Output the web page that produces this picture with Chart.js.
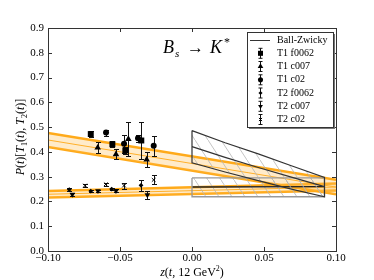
<!DOCTYPE html>
<html>
<head>
<meta charset="utf-8">
<script src="https://cdn.jsdelivr.net/npm/chart.js@4.4.1/dist/chart.umd.min.js"></script>
<style>
    html, body { margin: 0; padding: 0; background: #fff; }
    canvas { display: block; }
</style>
</head>
<body>
<canvas id="grafico" width="374" height="280"></canvas>
<script>
// datos
const t1f0062X = [-0.0703, -0.0553, -0.0463, -0.0352];
const t1f0062Y = [0.472, 0.431, 0.406, 0.446];
const t1f0062Err = [0.012, 0.012, 0.015, 0.073];

const t1c007X = [-0.0655, -0.0528, -0.0442, -0.0315];
const t1c007Y = [0.417, 0.390, 0.452, 0.369];
const t1c007Err = [0.022, 0.020, 0.068, 0.030];

const t1c02X = [-0.0597, -0.0472, -0.0375, -0.0266];
const t1c02Y = [0.478, 0.433, 0.455, 0.425];
const t1c02Err = [0.012, 0.037, 0.015, 0.040];

const t2f0062X = [-0.0852, -0.0703, -0.0558, -0.0354];
const t2f0062Y = [0.248, 0.242, 0.250, 0.265];
const t2f0062Err = [0.005, 0.004, 0.005, 0.022];

const t2c007X = [-0.0831, -0.0653, -0.0528, -0.0310];
const t2c007Y = [0.228, 0.243, 0.243, 0.226];
const t2c007Err = [0.006, 0.004, 0.006, 0.018];

const t2c02X = [-0.0743, -0.0599, -0.0472, -0.0266];
const t2c02Y = [0.264, 0.269, 0.264, 0.287];
const t2c02Err = [0.005, 0.005, 0.012, 0.018];

// bandas del ajuste
const bandaX = [-0.10, 0.10];
const t1BandaAlta = [0.476, 0.287];
const t1BandaMedia = [0.448, 0.258];
const t1BandaBaja = [0.420, 0.229];
const t2BandaAlta = [0.242, 0.272];
const t2BandaMedia = [0.229, 0.258];
const t2BandaBaja = [0.216, 0.244];

// Ball-Zwicky
const bzX = [0, 0.023, 0.046, 0.069, 0.092];
const t1BzAlta = [0.486, 0.437, 0.392, 0.344, 0.297];
const t1BzMedia = [0.421, 0.378, 0.337, 0.298, 0.260];
const t1BzBaja = [0.356, 0.319, 0.284, 0.250, 0.219];
const t2BzX = [0, 0.092];
const t2BzAlta = [0.295, 0.295];
const t2BzMedia = [0.258, 0.260];
const t2BzBaja = [0.219, 0.219];

const ticksX = [-0.10, -0.05, 0.00, 0.05, 0.10];
const ticksY = [0.0, 0.1, 0.2, 0.3, 0.4, 0.5, 0.6, 0.7, 0.8, 0.9];

const serif = '"Liberation Serif", "DejaVu Serif", serif';

function puntos(xs, ys) {
    return xs.map((x, i) => ({ x: x, y: ys[i] }));
}

function contorno(xs, alta, baja) {
    let p = [];
    for (let i = 0; i < xs.length; i++) p.push({ x: xs[i], y: alta[i] });
    for (let i = xs.length - 1; i >= 0; i--) p.push({ x: xs[i], y: baja[i] });
    p.push({ x: xs[0], y: alta[0] });
    return p;
}

function crearRayado() {
    const c = document.createElement('canvas');
    c.width = 13;
    c.height = 20;
    const g = c.getContext('2d');
    g.strokeStyle = '#b5b5b5';
    g.lineWidth = 0.8;
    g.beginPath();
    g.moveTo(0, 0);
    g.lineTo(13, 20);
    g.stroke();
    return g.createPattern(c, 'repeat');
}
const rayado = crearRayado();

function serieDatos(nombre, xs, ys, errs, estilo, radio, rot) {
    return {
        label: nombre,
        data: puntos(xs, ys),
        errores: errs,
        showLine: false,
        pointStyle: estilo,
        pointRadius: radio,
        pointRotation: rot || 0,
        pointBackgroundColor: '#000',
        pointBorderColor: '#000',
        pointBorderWidth: estilo === 'crossRot' ? 1 : 0,
        enLeyenda: true
    };
}

function linea(xs, ys, color, ancho, extra) {
    return Object.assign({
        data: puntos(xs, ys),
        borderColor: color,
        borderWidth: ancho,
        pointRadius: 0,
        fill: false,
        tension: 0
    }, extra || {});
}

const datasets = [
    serieDatos('T1 f0062', t1f0062X, t1f0062Y, t1f0062Err, 'rect', 4.2),
    serieDatos('T1 c007', t1c007X, t1c007Y, t1c007Err, 'triangle', 3.8),
    serieDatos('T1 c02', t1c02X, t1c02Y, t1c02Err, 'circle', 3),
    serieDatos('T2 f0062', t2f0062X, t2f0062Y, t2f0062Err, 'rectRot', 2.4),
    serieDatos('T2 c007', t2c007X, t2c007Y, t2c007Err, 'triangle', 3.3, 180),
    serieDatos('T2 c02', t2c02X, t2c02Y, t2c02Err, 'crossRot', 2.6),
    // Ball-Zwicky T1
    { data: contorno(bzX, t1BzAlta, t1BzBaja), borderColor: '#333', borderWidth: 1.2, pointRadius: 0, fill: false, tension: 0 },
    linea(bzX, t1BzMedia, '#333', 1.2),
    linea(bzX, t1BzAlta, 'rgba(0,0,0,0)', 0, { fill: '+1', backgroundColor: rayado }),
    linea(bzX, t1BzBaja, 'rgba(0,0,0,0)', 0),
    // Ball-Zwicky T2
    { data: contorno(t2BzX, t2BzAlta, t2BzBaja), borderColor: '#999', borderWidth: 1.3, pointRadius: 0, fill: false, tension: 0 },
    linea(t2BzX, t2BzMedia, '#222', 1.4),
    linea(t2BzX, t2BzAlta, 'rgba(0,0,0,0)', 0, { fill: '+1', backgroundColor: rayado }),
    linea(t2BzX, t2BzBaja, 'rgba(0,0,0,0)', 0),
    // bandas
    linea(bandaX, t1BandaAlta, '#ffaa1a', 2.5, { fill: '+2', backgroundColor: 'rgba(255,190,80,0.3)' }),
    linea(bandaX, t1BandaMedia, '#ffaa1a', 1),
    linea(bandaX, t1BandaBaja, '#ffaa1a', 2.5),
    linea(bandaX, t2BandaAlta, '#ffaa1a', 2.5, { fill: '+2', backgroundColor: 'rgba(255,190,80,0.3)' }),
    linea(bandaX, t2BandaMedia, '#ffaa1a', 1),
    linea(bandaX, t2BandaBaja, '#ffaa1a', 2.5)
];

function textoRuns(ctx, runs, x, y, centrado) {
    let ancho = 0;
    runs.forEach(r => { ctx.font = r[1]; ancho += ctx.measureText(r[0]).width; });
    let cx = centrado ? x - ancho / 2 : x;
    runs.forEach(r => {
        ctx.font = r[1];
        ctx.fillText(r[0], cx, y + (r[2] || 0));
        cx += ctx.measureText(r[0]).width;
    });
}

// barras de error bajo cada marcador
const pluginErrores = {
    id: 'errores',
    beforeDatasetDraw(chart, args) {
        const ds = chart.data.datasets[args.index];
        if (!ds.errores) return;
        const ctx = chart.ctx, sx = chart.scales.x, sy = chart.scales.y;
        ctx.save();
        ctx.strokeStyle = '#111';
        ctx.lineWidth = 1;
        ds.data.forEach((p, i) => {
            const px = Math.round(sx.getPixelForValue(p.x)) + 0.5;
            const y1 = Math.round(sy.getPixelForValue(p.y + ds.errores[i])) + 0.5;
            const y2 = Math.round(sy.getPixelForValue(p.y - ds.errores[i])) + 0.5;
            ctx.beginPath();
            ctx.moveTo(px, y1); ctx.lineTo(px, y2);
            ctx.moveTo(px - 2.5, y1); ctx.lineTo(px + 2.5, y1);
            ctx.moveTo(px - 2.5, y2); ctx.lineTo(px + 2.5, y2);
            ctx.stroke();
        });
        ctx.restore();
    }
};

// marco, ticks interiores, titulos y leyenda
const pluginExtras = {
    id: 'extras',
    afterDraw(chart) {
        const ctx = chart.ctx, a = chart.chartArea;
        const sx = chart.scales.x, sy = chart.scales.y;
        ctx.save();
        ctx.strokeStyle = '#333';
        ctx.lineWidth = 1;
        ctx.beginPath();
        ticksX.forEach(v => {
            const px = Math.round(sx.getPixelForValue(v)) + 0.5;
            ctx.moveTo(px, a.bottom); ctx.lineTo(px, a.bottom - 4);
            ctx.moveTo(px, a.top); ctx.lineTo(px, a.top + 4);
        });
        ticksY.forEach(v => {
            const py = Math.round(sy.getPixelForValue(v)) + 0.5;
            ctx.moveTo(a.left, py); ctx.lineTo(a.left + 4, py);
            ctx.moveTo(a.right, py); ctx.lineTo(a.right - 4, py);
        });
        ctx.stroke();
        ctx.strokeRect(Math.round(a.left) + 0.5, Math.round(a.top) + 0.5,
            Math.round(a.right - a.left), Math.round(a.bottom - a.top));

        ctx.fillStyle = '#000';
        ctx.textBaseline = 'alphabetic';
        const it = 'italic 12px ' + serif, rm = '12px ' + serif, pe = '8px ' + serif;

        // eje x
        textoRuns(ctx, [['z', it], ['(', rm], ['t', it], [', 12 GeV', rm], ['2', pe, -5], [')', rm]], 192, 276, true);

        // eje y
        ctx.save();
        ctx.translate(24, 137);
        ctx.rotate(-Math.PI / 2);
        textoRuns(ctx, [['P', it], ['(', rm], ['t', it], [')[', rm], ['T', it], ['1', pe, 3], ['(', rm], ['t', it], ['), ', rm],
            ['T', it], ['2', pe, 3], ['(', rm], ['t', it], [')]', rm]], 0, 0, true);
        ctx.restore();

        // titulo dentro del grafico
        ctx.font = 'italic 18px ' + serif;
        ctx.fillText('B', 163, 53);
        ctx.font = 'italic 11px ' + serif;
        ctx.fillText('s', 175, 57);
        ctx.font = '17px ' + serif;
        ctx.fillText('\u2192', 187, 53);
        ctx.font = 'italic 18px ' + serif;
        ctx.fillText('K', 210, 53);
        ctx.font = '12px ' + serif;
        ctx.fillText('*', 224, 46);

        // leyenda
        const lx = 247, ly = 32, lw = 86, lh = 95;
        ctx.fillStyle = '#777';
        ctx.fillRect(lx + 2, ly + 2, lw, lh);
        ctx.fillStyle = '#fff';
        ctx.fillRect(lx, ly, lw, lh);
        ctx.strokeStyle = '#333';
        ctx.strokeRect(lx + 0.5, ly + 0.5, lw, lh);

        const filas = [40, 53.3, 66.5, 79.8, 93, 106.3, 119.5];
        ctx.font = '10px ' + serif;
        ctx.textBaseline = 'middle';
        ctx.fillStyle = '#000';
        ctx.beginPath();
        ctx.moveTo(250, 40.5); ctx.lineTo(270, 40.5);
        ctx.stroke();
        ctx.fillText('Ball-Zwicky', 277, 40);
        let fila = 1;
        chart.data.datasets.forEach(ds => {
            if (!ds.enLeyenda) return;
            const y = filas[fila++];
            const px = 260.5;
            ctx.strokeStyle = '#111';
            ctx.beginPath();
            ctx.moveTo(px, y - 5); ctx.lineTo(px, y + 5);
            ctx.moveTo(px - 2, y - 5); ctx.lineTo(px + 2, y - 5);
            ctx.moveTo(px - 2, y + 5); ctx.lineTo(px + 2, y + 5);
            ctx.stroke();
            ctx.fillStyle = '#000';
            ctx.strokeStyle = '#000';
            Chart.helpers.drawPoint(ctx, {
                pointStyle: ds.pointStyle,
                radius: ds.pointRadius * 0.85,
                rotation: ds.pointRotation,
                borderWidth: ds.pointBorderWidth
            }, px, y);
            ctx.fillStyle = '#000';
            ctx.fillText(ds.label, 277, y);
        });
        ctx.restore();
    }
};

const ctx = document.getElementById('grafico').getContext('2d');
window.miGrafico = new Chart(ctx, {
    type: 'line',
    data: { datasets: datasets },
    options: {
        responsive: false,
        animation: false,
        layout: { padding: { top: 28, right: 38, left: 0, bottom: 0 } },
        plugins: {
            legend: { display: false },
            tooltip: { enabled: false }
        },
        scales: {
            x: {
                type: 'linear',
                min: -0.10,
                max: 0.10,
                afterBuildTicks: s => { s.ticks = ticksX.map(v => ({ value: v })); },
                afterFit: s => { s.height = 29; },
                grid: { display: false, drawTicks: false },
                border: { display: false },
                ticks: {
                    padding: 1,
                    color: '#000',
                    font: { family: serif, size: 11 },
                    maxRotation: 0,
                    callback: v => (v < 0 ? '\u2212' : '') + Math.abs(v).toFixed(2)
                }
            },
            y: {
                min: 0,
                max: 0.9,
                afterBuildTicks: s => { s.ticks = ticksY.map(v => ({ value: v })); },
                afterFit: s => { s.width = 48; },
                grid: { display: false, drawTicks: false },
                border: { display: false },
                ticks: {
                    padding: 4,
                    color: '#000',
                    font: { family: serif, size: 11 },
                    callback: v => v.toFixed(1)
                }
            }
        }
    },
    plugins: [pluginErrores, pluginExtras]
});
</script>
</body>
</html>
